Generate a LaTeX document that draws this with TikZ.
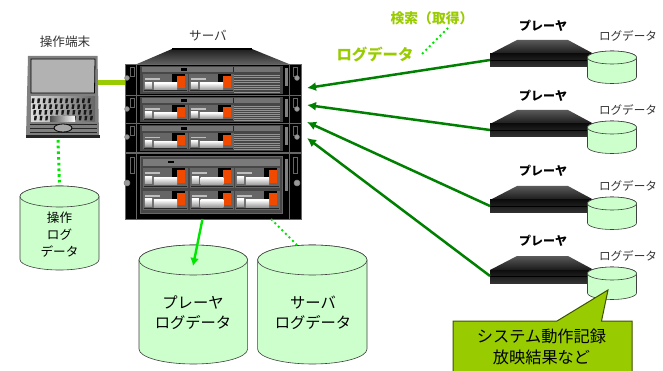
\documentclass[tikz,border=0pt]{standalone}
\usepackage{fontspec}
\setmainfont{Noto Sans CJK JP}
\usetikzlibrary{arrows.meta,calc}
\definecolor{cylfill}{HTML}{CCFFCC}
\definecolor{olive}{HTML}{99CC00}
\definecolor{dgreen}{HTML}{008000}
\definecolor{lime}{HTML}{00E600}
\definecolor{orng}{HTML}{F04A00}
\tikzset{
  lab/.style={font=\fontsize{11.6}{13}\selectfont,text=black!80,inner sep=0},
  toplab/.style={font=\fontsize{12.6}{14}\selectfont,text=black!80,inner sep=0},
  plab/.style={font=\fontsize{12}{14}\selectfont\bfseries,inner sep=0},
  biglab/.style={font=\fontsize{15.3}{20}\selectfont,align=center,inner sep=0},
  midlab/.style={font=\fontsize{12.6}{17}\selectfont,align=center,inner sep=0},
  oltext/.style={font=\fontsize{13.8}{15}\selectfont\bfseries,text=olive,inner sep=0},
  cyledge/.style={draw=black!75,line width=.6pt,fill=cylfill},
  feed/.style={draw=dgreen,line width=2.5pt,-{Latex[length=9pt,width=9pt]}},
  dots/.style={draw=lime,line width=3pt,dash pattern=on 2.6pt off 3.1pt},
  thindots/.style={draw=lime,line width=2pt,dash pattern=on 2pt off 3pt},
}
% cx, top y, rx, ry, total height, name
\newcommand{\cylin}[6]{%
  \path[cyledge] (#1-#3,#2+#4) arc[start angle=180,end angle=360,x radius=#3,y radius=#4]
    -- ++(0,#5-2*#4) arc[start angle=0,end angle=-180,x radius=#3,y radius=-#4] -- cycle;
  \path[cyledge] (#1,#2+#4) ellipse[x radius=#3,y radius=#4];
  \coordinate (#6-top) at (#1,#2);
}
% player: left x, top y, name
\newcommand{\player}[3]{%
  \begin{scope}[shift={(#1,#2)}]
    \shade[top color=black!65,bottom color=black!90] (0,14)--(27,0)--(78,0)--(104,14)--cycle;
    \shade[top color=black!95,middle color=black!60,bottom color=black!80] (0,14) rectangle (104,27);
    \draw[black,line width=.5pt] (0,20)--(104,20);
  \end{scope}
  \coordinate (#3) at (#1,#2+20);
}
% slot: left x, top y, width, height
\newcommand{\slot}[4]{%
  \pgfmathsetmacro{\sh}{#4}%
  \begin{scope}[shift={(#1,#2)}]
    \fill[black!60] (0,0) rectangle (#3,\sh);
    \fill[black] (#3*.64,0) rectangle (#3*.93,\sh*.72);
    \fill[orng] (#3*.76,\sh*.1) rectangle (#3*.93,\sh*.75);
    \shade[top color=white,bottom color=black!40] (#3*.24,\sh*.47) rectangle (#3*.76,\sh*.85);
    \shade[top color=white,bottom color=black!40] (#3*.04,\sh*.42) rectangle (#3*.2,\sh*.8);
    \fill[black!25] (#3*.04,\sh*.2) rectangle (#3*.38,\sh*.3);
    \fill[black!85] (#3*.02,\sh*.88) rectangle (#3*.98,\sh*.93);
  \end{scope}
}
% small rack unit: top y, height
\newcommand{\runit}[2]{%
  \pgfmathsetmacro{\uh}{#2}%
  \begin{scope}[shift={(125,#1)}]
    \fill[black] (0,0) rectangle (176,\uh);
    \draw[black!60,line width=.4pt] (0,0) rectangle (176,\uh);
    \draw[black!60,line width=.4pt] (11,0)--(11,\uh) (164,0)--(164,\uh);
    \fill[black!72] (15,2) rectangle (158,\uh-1);
    \fill[black!55] (17,3) rectangle (155,8.5);
    \fill[black] (56,4) rectangle (62,7.5);
    \draw[black!85,line width=.4pt] (108,3)--(108,8.5);
    \slot{18}{10.5}{45}{\uh-13}
    \slot{64}{10.5}{45}{\uh-13}
    \foreach \k in {0,2,...,14}{\fill[black!42] (109,{11+\k*(\uh-13)/15}) rectangle (155,{11.7+\k*(\uh-13)/15});}
    \draw[black!60,line width=.5pt] (5,3) rectangle (9,12);
    \draw[black!50,fill=black!40,line width=.5pt] (2,14) circle (2.4);
    \fill[black!50] (160,4) rectangle (163,22);
    \draw[black!60,line width=.5pt] (168,3) rectangle (172,12);
    \draw[black!50,fill=black!40,line width=.5pt] (172,14) circle (2.4);
  \end{scope}
}
\begin{document}
\begin{tikzpicture}[x=1pt,y=-1pt]
\useasboundingbox (0,0) rectangle (663,371);
\fill[white] (0,0) rectangle (663,371);

\coordinate (srvL) at (125,83);
\coordinate (lapR) at (97,83);
\draw[olive,line width=5pt] (lapR)--(srvL);

% server
\shade[top color=black!88,bottom color=black!62] (137,64)--(172,49)--(252,49)--(289,64)--cycle;
\draw[black,line width=1.2pt] (172,49)--(252,49);
\runit{64}{31}
\runit{95}{28}
\runit{123}{29}
\begin{scope}[shift={(125,153)}]
  \fill[black] (0,0) rectangle (176,66);
  \draw[black!25,line width=.7pt] (0,0)--(176,0);
  \draw[black!60,line width=.4pt] (0,0) rectangle (176,66);
  \draw[black!60,line width=.4pt] (11,0)--(11,66) (164,0)--(164,66);
  \draw[black!60,fill=black!72,line width=.5pt] (15,3) rectangle (157,60);
  \fill[black!52] (18,6) rectangle (155,13);
  \fill[black] (43,8.5) rectangle (49,10.5);
  \slot{18}{15}{45}{20}
  \slot{65}{15}{44}{20}
  \slot{110}{15}{45}{20}
  \slot{18}{38}{45}{19}
  \slot{65}{38}{44}{19}
  \slot{110}{38}{45}{19}
  \draw[black!60,line width=.5pt] (5,4) rectangle (9,20);
  \draw[black!50,fill=black!40,line width=.5pt] (2,30) circle (3);
  \fill[black!50] (160,6) rectangle (163,38);
  \draw[black!60,line width=.5pt] (168,4) rectangle (172,20);
  \draw[black!50,fill=black!40,line width=.5pt] (172,30) circle (3);
\end{scope}
\coordinate (srv1) at (307,88);
\coordinate (srv2) at (307,105);
\coordinate (srv3) at (307,122);
\coordinate (srv4) at (307,138);

% laptop
\fill[black!50] (28,56)--(97.5,56)--(99,136)--(26,136)--cycle;
\fill[black!30,draw=black,line width=.8pt] (31,59)--(95,59)--(94.5,93)--(31,93)--cycle;
\shade[left color=black!12,right color=black!60] (31,97) rectangle (95,122);
\foreach \r in {0,...,3}{
  \foreach \c in {0,...,10}{
    \fill[black!90] ({32+\c*5.6+\r*.8},{98.5+\r*5.8}) -- ++(2.6,0) -- ++(-.8,4.6) -- ++(-2.2,0) -- cycle;
  }
}
\shade[left color=black!70,right color=white] (50,117) rectangle (75,122);
\fill[black!85] (30,124) rectangle (97,125.2);
\fill[black!85] (30,128) rectangle (97,129.2);
\fill[black!85] (30,132) rectangle (97,133.2);
\draw[black,fill=black!35,line width=.8pt] (63,128) ellipse (9 and 4);
\fill[black!85] (26,135.5) rectangle (99.5,138);
\coordinate (lapB) at (58,140);

% left cylinder
\cylin{59.5}{186}{39.5}{10.5}{84}{opc}
\draw[dots] (lapB)--(opc-top);

% big cylinders
\cylin{193.3}{245}{54.3}{15}{119}{pcyl}
\cylin{312.3}{245}{54.7}{15}{119}{scyl}

% server to cylinders
\coordinate (sb1) at (202.5,219);
\coordinate (pc) at (193,266);
\draw[lime,line width=2.4pt,-{Latex[length=8pt,width=9pt]}] (sb1)--(pc);
\coordinate (sb2) at (271,219);
\coordinate (sc) at (297,245);
\draw[thindots] (sb2)--(sc);

% players
\player{490}{40}{p1}
\player{490}{110}{p2}
\player{490}{186}{p3}
\player{490}{256}{p4}
\cylin{612}{51}{24.5}{6.5}{32.5}{c1}
\cylin{612}{121}{24.5}{6.5}{32.5}{c2}
\cylin{612}{197}{24.5}{6.5}{32.5}{c3}
\cylin{612}{267}{24.5}{6.5}{32.5}{c4}

\draw[feed] (p1)--(srv1);
\draw[feed] (p2)--(srv2);
\draw[feed] (p3)--(srv3);
\draw[feed] (p4)--(srv4);

% callout
\path[fill=olive,draw=black!60!olive,line width=1pt] (453,321)--(557,321)--(608,290)--(601.5,321)--(632,321)--(632,373)--(453,373)--cycle;

\node[oltext] (kensaku) at (432,18) {検索（取得）};
\node[oltext,font=\fontsize{15.4}{17}\selectfont\bfseries] (logd) at (375,55) {ログデータ};
\coordinate (d1) at (422,54);
\coordinate (d2) at (448,28);
\draw[thindots] (d1)--(d2);

% labels
\node[toplab] (t1) at (65,42) {操作端末};
\node[toplab] (t2) at (208,36) {サーバ};
\node[midlab] (t3) at (59.5,235) {操作\\ログ\\データ};
\node[biglab] (t4) at (193,313) {プレーヤ\\ログデータ};
\node[biglab] (t5) at (313,313) {サーバ\\ログデータ};
\node[plab] (pl1) at (543,26) {プレーヤ};
\node[plab] (pl2) at (543,96) {プレーヤ};
\node[plab] (pl3) at (543,171) {プレーヤ};
\node[plab] (pl4) at (543,241) {プレーヤ};
\node[lab] (ld1) at (628,36) {ログデータ};
\node[lab] (ld2) at (628,110) {ログデータ};
\node[lab] (ld3) at (628,186) {ログデータ};
\node[lab] (ld4) at (628,256) {ログデータ};
\node[font=\fontsize{16.2}{20.5}\selectfont,align=center,inner sep=0] (call) at (541.5,347) {システム動作記録\\放映結果など};
\end{tikzpicture}
\end{document}
